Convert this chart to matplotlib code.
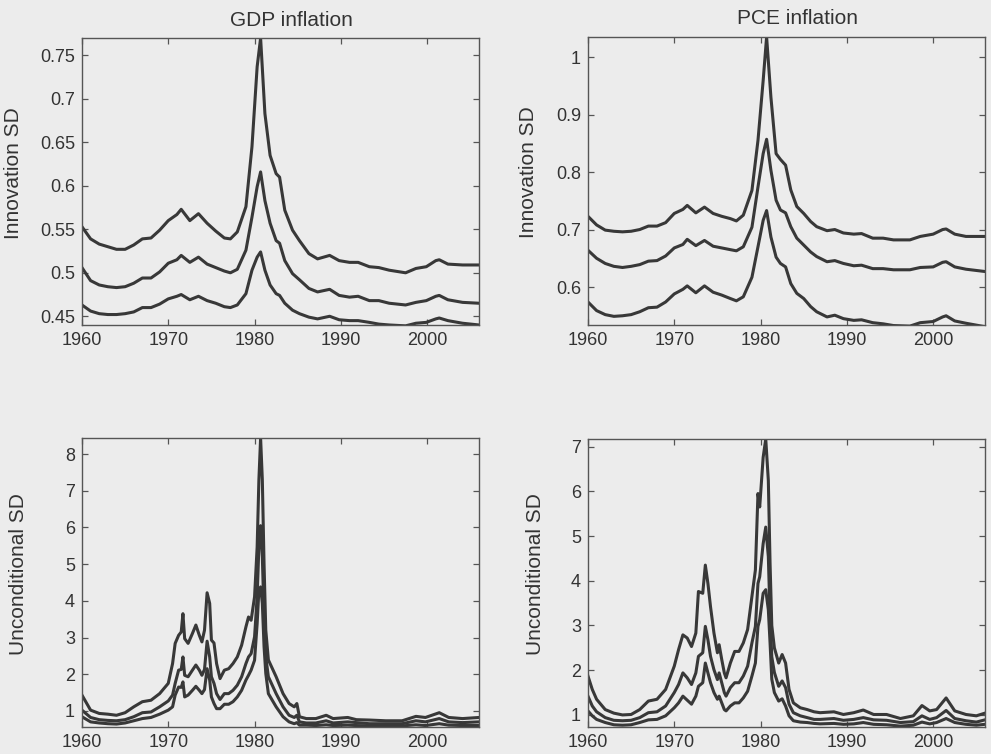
import matplotlib
matplotlib.use("Agg")
import matplotlib.pyplot as plt
from matplotlib.ticker import FuncFormatter

plt.rcParams['font.family'] = ['Liberation Sans', 'DejaVu Sans']

# GDP inflation, innovation SD (upper / middle / lower bands)
years_gdp_innov = [1960, 1961, 1962, 1963, 1964, 1965, 1966, 1967, 1968, 1969, 1970, 1971,
                   1971.5, 1972.5, 1973.5, 1974.5, 1975.5, 1976.5, 1977.2, 1978,
                   1979, 1979.7, 1980.3, 1980.7, 1981.2, 1981.8,
                   1982.5, 1982.9, 1983.5, 1984.4, 1985.2, 1986.3, 1987.3, 1988.7, 1989.8,
                   1991, 1992, 1993.3, 1994.4, 1995.6, 1997.5,
                   1998.7, 1999.9, 2001, 2001.4, 2002.4, 2004.1, 2006]
gdp_innov_hi = [0.553, 0.539, 0.533, 0.530, 0.527, 0.527, 0.532, 0.539, 0.540, 0.549, 0.560, 0.567,
                0.573, 0.560, 0.568, 0.557, 0.548, 0.540, 0.539, 0.547,
                0.576, 0.645, 0.737, 0.770, 0.683, 0.635,
                0.614, 0.610, 0.572, 0.549, 0.537, 0.522, 0.516, 0.520, 0.514,
                0.512, 0.512, 0.507, 0.506, 0.503, 0.500,
                0.505, 0.507, 0.514, 0.515, 0.510, 0.509, 0.509]
gdp_innov_mid = [0.506, 0.491, 0.486, 0.484, 0.483, 0.484, 0.488, 0.494, 0.494, 0.501, 0.511, 0.515,
                 0.520, 0.512, 0.518, 0.510, 0.506, 0.502, 0.500, 0.504,
                 0.526, 0.564, 0.599, 0.616, 0.583, 0.557,
                 0.537, 0.534, 0.514, 0.499, 0.492, 0.482, 0.478, 0.481, 0.474,
                 0.472, 0.473, 0.468, 0.468, 0.465, 0.463,
                 0.466, 0.468, 0.473, 0.474, 0.469, 0.466, 0.465]
gdp_innov_lo = [0.463, 0.456, 0.453, 0.452, 0.452, 0.453, 0.455, 0.460, 0.460, 0.464, 0.470, 0.473,
                0.475, 0.469, 0.473, 0.468, 0.465, 0.461, 0.460, 0.463,
                0.476, 0.503, 0.518, 0.524, 0.503, 0.486,
                0.476, 0.474, 0.465, 0.457, 0.453, 0.449, 0.447, 0.450, 0.446,
                0.445, 0.445, 0.443, 0.441, 0.440, 0.439,
                0.442, 0.443, 0.447, 0.448, 0.445, 0.442, 0.440]

# PCE inflation, innovation SD
years_pce_innov = [1960, 1961, 1962, 1963, 1964, 1965, 1966, 1967, 1968, 1969, 1970, 1971,
                   1971.5, 1972.5, 1973.5, 1974.5, 1975.5, 1976.5, 1977.2, 1978,
                   1979, 1979.7, 1980.3, 1980.7, 1981.2, 1981.8,
                   1982.3, 1982.9, 1983.5, 1984.2, 1985, 1985.8, 1986.5, 1987.7, 1988.6, 1989.6,
                   1990.8, 1991.7, 1993, 1994.2, 1995.4, 1997.3,
                   1998.5, 2000, 2001.1, 2001.5, 2002.5, 2003.8, 2006]
pce_innov_hi = [0.723, 0.708, 0.699, 0.697, 0.696, 0.697, 0.700, 0.706, 0.706, 0.712, 0.728, 0.735,
                0.742, 0.729, 0.739, 0.728, 0.723, 0.719, 0.715, 0.725,
                0.768, 0.855, 0.959, 1.035, 0.930, 0.832,
                0.822, 0.812, 0.769, 0.740, 0.728, 0.714, 0.705, 0.698, 0.700, 0.694,
                0.692, 0.693, 0.685, 0.685, 0.682, 0.682,
                0.688, 0.692, 0.700, 0.701, 0.692, 0.688, 0.688]
pce_innov_mid = [0.664, 0.650, 0.641, 0.636, 0.634, 0.636, 0.639, 0.645, 0.646, 0.654, 0.668, 0.674,
                 0.683, 0.672, 0.681, 0.671, 0.668, 0.665, 0.663, 0.670,
                 0.704, 0.774, 0.832, 0.857, 0.803, 0.751,
                 0.734, 0.729, 0.705, 0.685, 0.673, 0.661, 0.653, 0.644, 0.646, 0.641,
                 0.637, 0.638, 0.632, 0.632, 0.630, 0.630,
                 0.634, 0.635, 0.643, 0.644, 0.635, 0.631, 0.627]
pce_innov_lo = [0.574, 0.559, 0.552, 0.549, 0.550, 0.552, 0.557, 0.564, 0.565, 0.574, 0.588, 0.596,
                0.602, 0.590, 0.602, 0.591, 0.586, 0.580, 0.576, 0.583,
                0.617, 0.670, 0.716, 0.733, 0.687, 0.652,
                0.641, 0.635, 0.606, 0.589, 0.580, 0.566, 0.557, 0.548, 0.551, 0.545,
                0.542, 0.543, 0.538, 0.536, 0.533, 0.532,
                0.538, 0.540, 0.548, 0.550, 0.541, 0.537, 0.531]

# GDP inflation, unconditional SD
years_gdp_uncond = [1960, 1961, 1962, 1963, 1964, 1965, 1966, 1967, 1968, 1969, 1970,
                    1970.5, 1970.8, 1971.2, 1971.5, 1971.7, 1971.9,
                    1972.3, 1972.8, 1973.2, 1973.6, 1973.9,
                    1974.2, 1974.5, 1974.8, 1975.0, 1975.3, 1975.6,
                    1976, 1976.5, 1977, 1977.5, 1978, 1978.5,
                    1979, 1979.3, 1979.6,
                    1980, 1980.3, 1980.5, 1980.7, 1980.9,
                    1981.1, 1981.3, 1981.6,
                    1982.5, 1983.3, 1984.0, 1984.6, 1984.9, 1985.2,
                    1986, 1987.1, 1988.3, 1989.1,
                    1990.8, 1991.8, 1993.3, 1995.2, 1997.1,
                    1998.7, 1999.8, 2001.4, 2002.5, 2004.1, 2006]
gdp_uncond_hi = [1.43, 1.02, 0.93, 0.91, 0.88, 0.95, 1.11, 1.25, 1.29, 1.47, 1.75,
                 2.29, 2.84, 3.06, 3.15, 3.65, 2.97,
                 2.84, 3.11, 3.34, 3.06, 2.88,
                 3.20, 4.22, 3.93, 2.93, 2.85, 2.29,
                 1.88, 2.11, 2.15, 2.29, 2.47, 2.79,
                 3.29, 3.56, 3.47,
                 4.11, 5.47, 7.29, 8.44, 7.30,
                 5.00, 3.20, 2.39,
                 1.93, 1.47, 1.20, 1.11, 1.20, 0.84,
                 0.79, 0.79, 0.88, 0.79,
                 0.82, 0.76, 0.75, 0.73, 0.73,
                 0.85, 0.82, 0.95, 0.82, 0.79, 0.82]
gdp_uncond_mid = [1.02, 0.82, 0.76, 0.74, 0.73, 0.76, 0.84, 0.95, 0.97, 1.11, 1.27,
                  1.43, 1.75, 2.11, 2.13, 2.47, 1.97,
                  1.93, 2.11, 2.25, 2.11, 1.97,
                  2.13, 2.90, 2.47, 1.93, 1.75, 1.47,
                  1.31, 1.47, 1.47, 1.56, 1.70, 1.93,
                  2.29, 2.47, 2.56,
                  3.02, 4.11, 5.47, 6.05, 5.20,
                  3.56, 2.47, 1.93,
                  1.47, 1.11, 0.88, 0.82, 0.88, 0.70,
                  0.67, 0.67, 0.73, 0.67,
                  0.70, 0.68, 0.65, 0.65, 0.65,
                  0.73, 0.70, 0.79, 0.70, 0.68, 0.70]
gdp_uncond_lo = [0.84, 0.70, 0.67, 0.65, 0.64, 0.67, 0.73, 0.79, 0.82, 0.91, 1.02,
                 1.11, 1.43, 1.65, 1.64, 1.79, 1.38,
                 1.43, 1.56, 1.67, 1.56, 1.47,
                 1.58, 2.15, 1.84, 1.38, 1.20, 1.06,
                 1.06, 1.18, 1.18, 1.25, 1.38, 1.56,
                 1.84, 1.97, 2.11,
                 2.38, 3.38, 4.29, 4.38, 3.93,
                 2.75, 2.02, 1.47,
                 1.11, 0.84, 0.70, 0.65, 0.68, 0.61,
                 0.61, 0.60, 0.62, 0.60,
                 0.61, 0.60, 0.59, 0.59, 0.59,
                 0.62, 0.60, 0.65, 0.61, 0.60, 0.60]

# PCE inflation, unconditional SD
years_pce_uncond = [1960, 1960.5, 1961,
                    1962, 1963, 1964, 1965, 1966, 1967, 1968, 1969, 1970,
                    1970.5, 1971, 1971.5, 1972, 1972.5, 1972.8, 1973.3, 1973.6, 1973.9,
                    1974.2, 1974.6, 1975, 1975.2, 1975.5, 1975.8,
                    1976, 1976.5, 1977, 1977.5, 1978, 1978.5,
                    1979, 1979.4, 1979.7, 1979.9,
                    1980.3, 1980.6, 1980.9, 1981.1, 1981.3, 1981.6,
                    1982.1, 1982.5, 1982.9, 1983.3, 1983.8, 1984.6, 1985.4, 1986.2, 1986.9,
                    1988.5, 1989.6, 1990.8, 1991.9, 1993.1, 1994.6, 1996.2, 1997.7,
                    1998.7, 1999.6, 2000.4, 2001.5, 2002.5, 2003.8, 2005.0, 2006]
pce_uncond_hi = [1.87, 1.57, 1.35,
                 1.12, 1.04, 1.00, 1.01, 1.12, 1.31, 1.35, 1.57, 2.09,
                 2.46, 2.79, 2.72, 2.53, 2.83, 3.76, 3.72, 4.35, 3.94,
                 3.42, 2.83, 2.39, 2.57, 2.24, 1.94,
                 1.83, 2.16, 2.42, 2.42, 2.61, 2.91,
                 3.65, 4.24, 5.95, 5.65,
                 6.76, 7.17, 6.24, 4.39, 3.00, 2.50,
                 2.16, 2.35, 2.16, 1.57, 1.27, 1.16, 1.12, 1.07, 1.05,
                 1.07, 1.01, 1.05, 1.11, 1.01, 1.01, 0.92, 0.98,
                 1.21, 1.09, 1.12, 1.38, 1.09, 1.01, 0.98, 1.04]
pce_uncond_mid = [1.42, 1.20, 1.07,
                  0.94, 0.88, 0.87, 0.88, 0.94, 1.05, 1.07, 1.20, 1.50,
                  1.68, 1.94, 1.83, 1.68, 1.94, 2.31, 2.39, 2.98, 2.68,
                  2.31, 2.01, 1.79, 1.94, 1.72, 1.50,
                  1.42, 1.61, 1.72, 1.72, 1.87, 2.09,
                  2.61, 2.98, 3.94, 4.09,
                  4.83, 5.20, 4.54, 3.20, 2.30, 1.95,
                  1.64, 1.76, 1.61, 1.24, 1.05, 0.98, 0.94, 0.90, 0.90,
                  0.92, 0.88, 0.90, 0.94, 0.89, 0.88, 0.83, 0.85,
                  0.98, 0.90, 0.94, 1.10, 0.92, 0.87, 0.84, 0.89]
pce_uncond_lo = [1.09, 0.98, 0.90,
                 0.83, 0.78, 0.77, 0.78, 0.83, 0.89, 0.90, 0.98, 1.16,
                 1.27, 1.42, 1.33, 1.24, 1.42, 1.64, 1.72, 2.16, 1.94,
                 1.72, 1.50, 1.35, 1.42, 1.27, 1.12,
                 1.09, 1.20, 1.27, 1.27, 1.38, 1.53,
                 1.87, 2.16, 2.98, 3.13,
                 3.72, 3.80, 3.35, 2.61, 1.80, 1.50,
                 1.31, 1.36, 1.20, 0.98, 0.87, 0.84, 0.83, 0.81, 0.80,
                 0.81, 0.79, 0.80, 0.83, 0.79, 0.78, 0.75, 0.77,
                 0.84, 0.80, 0.83, 0.92, 0.83, 0.79, 0.77, 0.79]

x_ticks = [1960, 1970, 1980, 1990, 2000]
titles = ["GDP inflation", "PCE inflation"]
ylabels = ["Innovation SD", "Unconditional SD"]

bg = '#ececec'
line_col = '#383838'
ink = '#333333'

fig = plt.figure(figsize=(9.91, 7.54), dpi=100, facecolor=bg)

panels = [
    # rect, x, series, ylim, yticks, title, ylabel, label x (right edge of label)
    ([0.0827, 0.569, 0.4006, 0.3806], years_gdp_innov,
     (gdp_innov_hi, gdp_innov_mid, gdp_innov_lo), (0.44, 0.77),
     [0.45, 0.5, 0.55, 0.6, 0.65, 0.7, 0.75], titles[0], ylabels[0], -0.149),
    ([0.5933, 0.569, 0.4006, 0.3820], years_pce_innov,
     (pce_innov_hi, pce_innov_mid, pce_innov_lo), (0.534, 1.035),
     [0.6, 0.7, 0.8, 0.9, 1.0], titles[1], ylabels[0], -0.126),
    ([0.0827, 0.0358, 0.4006, 0.3833], years_gdp_uncond,
     (gdp_uncond_hi, gdp_uncond_mid, gdp_uncond_lo), (0.56, 8.44),
     [1, 2, 3, 4, 5, 6, 7, 8], None, ylabels[1], -0.136),
    ([0.5933, 0.0358, 0.4006, 0.3820], years_pce_uncond,
     (pce_uncond_hi, pce_uncond_mid, pce_uncond_lo), (0.73, 7.17),
     [1, 2, 3, 4, 5, 6, 7], None, ylabels[1], -0.108),
]

fmt = FuncFormatter(lambda v, p: '%g' % v)

for rect, xs, series, ylim, yticks, title, ylabel, lx in panels:
    ax = fig.add_axes(rect)
    ax.set_facecolor(bg)
    for ys in series:
        ax.plot(xs, ys, color=line_col, lw=2.2, solid_joinstyle='round')
    ax.set_xlim(1960, 2006)
    ax.set_ylim(*ylim)
    ax.set_xticks(x_ticks)
    ax.set_yticks(yticks)
    ax.yaxis.set_major_formatter(fmt)
    ax.tick_params(direction='in', length=4, width=0.9, colors='#555555',
                   labelcolor=ink, labelsize=13, top=True, right=True, pad=5)
    for sp in ax.spines.values():
        sp.set_color('#555555')
        sp.set_linewidth(1.0)
    if title:
        ax.set_title(title, fontsize=15, color=ink, pad=9, x=0.528)
    ax.set_ylabel(ylabel, fontsize=15, color=ink)
    ax.yaxis.set_label_coords(lx, 0.53)

fig.savefig('out.png', dpi=100, facecolor=bg)
